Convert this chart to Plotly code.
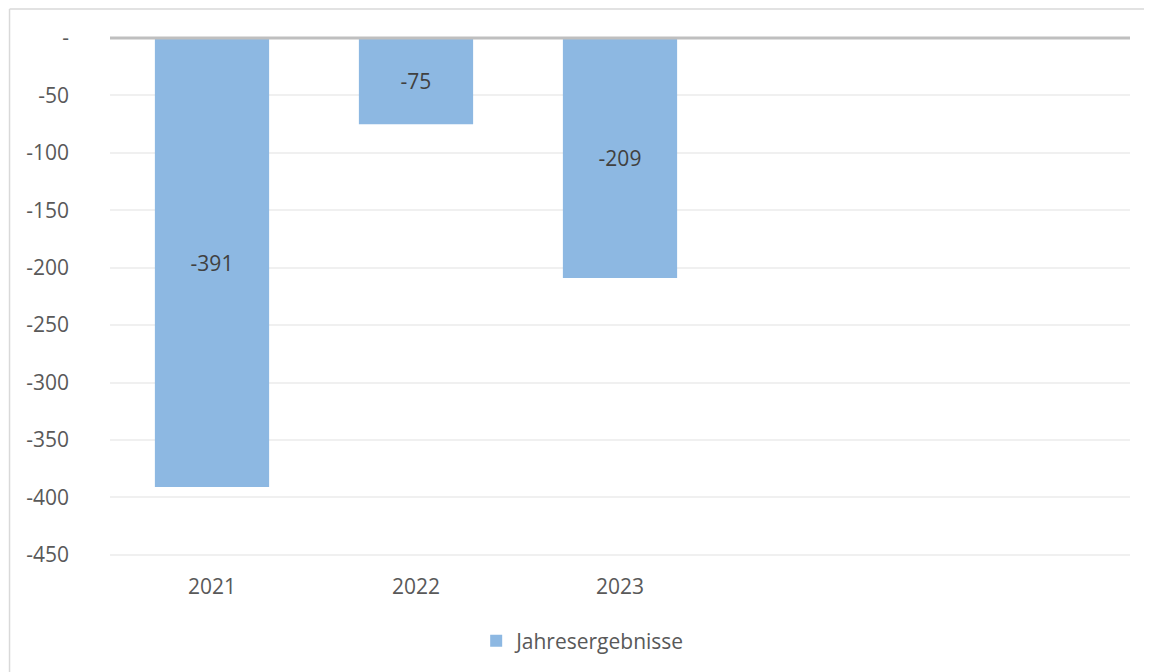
import plotly.graph_objects as go

categories = ["2021", "2022", "2023", "", ""]
values = [-391, -75, -209, None, None]
series_name = "Jahresergebnisse"
y_ticks = [0, -50, -100, -150, -200, -250, -300, -350, -400, -450]
y_tick_labels = ["-", "-50", "-100", "-150", "-200", "-250", "-300", "-350", "-400", "-450"]

font_family = "Open Sans, Liberation Sans, sans-serif"
text_color = "#595959"
bar_color = "#8DB8E2"
fs = 21

xs = list(range(len(categories)))

fig = go.Figure()
fig.add_trace(go.Bar(
    x=xs, y=values, name=series_name,
    marker=dict(color=bar_color, line=dict(width=0)),
    width=0.56,
    text=[str(v) if v is not None else "" for v in values],
    textposition="inside", insidetextanchor="middle",
    textfont=dict(family=font_family, size=fs, color="#404040"),
    showlegend=True,
))

# zero line
fig.add_shape(type="line", xref="paper", yref="paper", x0=0, x1=1, y0=1, y1=1,
              line=dict(color="#BFBFBF", width=3), layer="above")
# chart-area frame (left and top edges visible in the reference)
fig.add_shape(type="line", xref="paper", yref="paper",
              x0=-0.0985, x1=-0.0985, y0=-0.3, y1=1.0559,
              line=dict(color="#D9D9D9", width=1.5), layer="below")
fig.add_shape(type="line", xref="paper", yref="paper",
              x0=-0.0985, x1=1.1, y0=1.0559, y1=1.0559,
              line=dict(color="#D9D9D9", width=1.5), layer="below")

fig.update_layout(
    width=1144, height=664,
    margin=dict(l=102, r=22, t=30, b=115),
    paper_bgcolor="white", plot_bgcolor="white",
    font=dict(family=font_family, size=fs, color=text_color),
    bargap=0.44,
    legend=dict(orientation="h", x=0.359, xanchor="left", y=-0.162, yanchor="middle",
                font=dict(family=font_family, size=fs, color=text_color),
                itemwidth=30),
    xaxis=dict(range=[-0.5, len(categories) - 0.5], tickvals=xs, ticktext=categories,
               showgrid=False, zeroline=False, showline=False, ticks="",
               ticklabelstandoff=16, tickfont=dict(size=fs, color=text_color)),
    yaxis=dict(range=[-451, 0], tickvals=y_ticks, ticktext=y_tick_labels,
               showgrid=True, gridcolor="#F0F0F0", gridwidth=1.5,
               zeroline=False, showline=False, ticks="",
               ticklabelstandoff=40, tickfont=dict(size=fs, color=text_color)),
)

fig.write_html("out.html")
